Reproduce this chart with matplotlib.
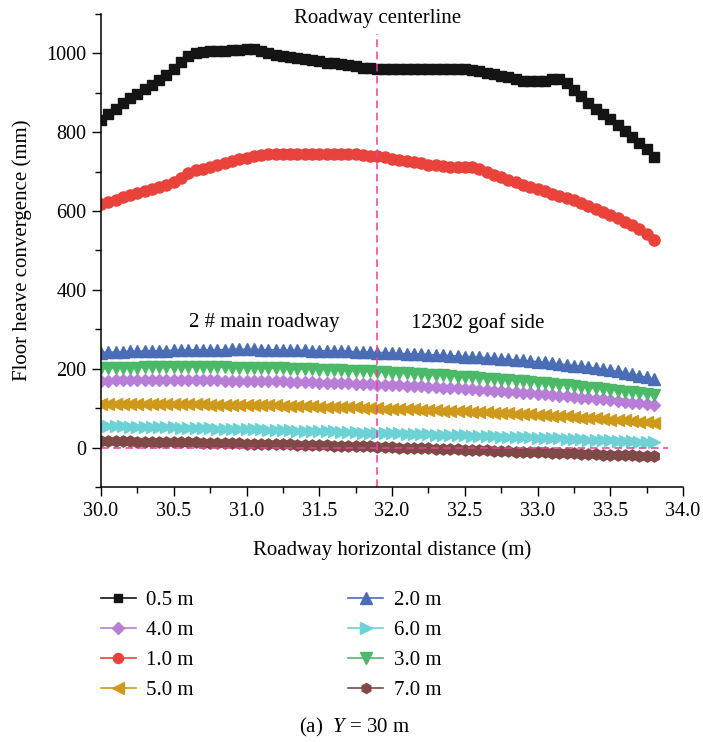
import numpy as np
import matplotlib
matplotlib.use("Agg")
import matplotlib.pyplot as plt
from matplotlib.ticker import MultipleLocator

plt.rcParams['font.family'] = ['Liberation Serif', 'DejaVu Serif']
plt.rcParams['mathtext.fontset'] = 'custom'
plt.rcParams['mathtext.rm'] = 'Liberation Serif'
plt.rcParams['mathtext.it'] = 'Liberation Serif:italic'

# horizontal positions of the monitoring points (m), 0.05 m spacing
distance = np.linspace(30.0, 33.8, 77)

# floor heave convergence (mm) at each depth below the floor
heave_05 = [832, 846, 860, 874, 886, 898, 910, 921, 933, 946, 960,
            978, 994, 1000, 1003, 1005, 1006, 1007, 1008, 1009, 1010, 1010,
            1005, 1001, 997, 994, 991, 988, 985, 983, 980, 977, 975,
            972, 970, 967, 964, 962, 960, 960, 960, 960, 960, 960,
            960, 960, 960, 960, 960, 960, 960, 958, 955, 951, 947,
            943, 939, 934, 931, 929, 929, 931, 935, 934, 925, 908,
            891, 874, 858, 846, 834, 819, 804, 789, 772, 757, 738]
heave_10 = [617, 623, 629, 635, 641, 646, 652, 657, 662, 667, 673,
            684, 697, 703, 708, 713, 718, 722, 726, 731, 735, 739,
            742, 744, 745, 746, 746, 746, 746, 746, 746, 746, 746,
            746, 746, 745, 743, 741, 739, 736, 733, 730, 727, 724,
            721, 718, 716, 714, 713, 713, 713, 711, 706, 699, 692,
            686, 679, 673, 667, 662, 656, 650, 644, 638, 633, 627,
            621, 613, 606, 598, 590, 582, 573, 565, 555, 542, 527]
heave_20 = [241, 242, 242, 243, 244, 244, 245, 245, 246, 246, 247,
            247, 247, 248, 248, 248, 248, 248, 249, 249, 249, 249,
            248, 248, 248, 248, 247, 247, 247, 246, 246, 245, 245,
            244, 244, 243, 243, 242, 241, 241, 240, 239, 238, 238,
            237, 236, 235, 234, 233, 232, 231, 230, 229, 228, 226,
            225, 224, 222, 221, 219, 218, 216, 214, 212, 210, 208,
            206, 204, 201, 199, 196, 193, 190, 186, 182, 178, 173]
heave_30 = [201, 202, 202, 203, 203, 203, 204, 204, 204, 204, 204,
            204, 204, 204, 204, 204, 204, 204, 203, 203, 203, 202,
            202, 202, 201, 201, 200, 200, 199, 199, 198, 197, 197,
            196, 195, 195, 194, 193, 192, 191, 190, 189, 188, 187,
            186, 185, 184, 183, 182, 180, 179, 178, 176, 175, 174,
            172, 171, 169, 168, 166, 165, 163, 161, 160, 158, 156,
            154, 152, 150, 148, 146, 144, 142, 140, 138, 136, 134]
heave_40 = [170, 170, 171, 171, 171, 171, 171, 171, 171, 171, 171,
            171, 171, 171, 171, 171, 171, 170, 170, 170, 170, 169,
            169, 169, 168, 168, 167, 167, 166, 166, 165, 165, 164,
            164, 163, 162, 162, 161, 160, 159, 159, 158, 157, 156,
            155, 154, 153, 152, 151, 150, 149, 148, 147, 146, 144,
            143, 142, 140, 139, 138, 136, 135, 133, 132, 130, 129,
            127, 125, 124, 122, 120, 118, 116, 114, 112, 110, 107]
heave_50 = [111, 111, 111, 111, 111, 111, 111, 111, 110, 110, 110,
            110, 110, 110, 110, 109, 109, 109, 109, 108, 108, 108,
            107, 107, 107, 106, 106, 105, 105, 105, 104, 104, 103,
            103, 102, 102, 101, 101, 100, 99, 99, 98, 98, 97,
            96, 96, 95, 94, 93, 93, 92, 91, 90, 89, 88,
            88, 87, 86, 85, 84, 83, 82, 81, 80, 79, 78,
            76, 75, 74, 73, 71, 70, 69, 67, 66, 64, 62]
heave_60 = [55, 55, 54, 54, 53, 53, 52, 52, 52, 51, 51,
            50, 50, 50, 49, 49, 48, 48, 48, 47, 47, 46,
            46, 45, 45, 44, 44, 43, 43, 42, 42, 41, 41,
            40, 39, 39, 38, 38, 37, 37, 36, 36, 35, 35,
            34, 34, 33, 33, 32, 32, 31, 30, 30, 29, 29,
            28, 27, 27, 26, 26, 25, 24, 24, 23, 22, 22,
            21, 20, 20, 19, 18, 17, 17, 16, 15, 14, 13]
heave_70 = [17, 17, 16, 16, 16, 15, 15, 15, 14, 14, 14,
            13, 13, 13, 12, 12, 12, 11, 11, 11, 10, 10,
            9, 9, 9, 8, 8, 7, 7, 6, 6, 6, 5,
            5, 4, 4, 3, 3, 2, 2, 1, 0, 0, -1,
            -1, -2, -3, -3, -4, -4, -5, -6, -6, -7, -8,
            -8, -9, -10, -10, -11, -12, -12, -13, -14, -14, -15,
            -16, -16, -17, -18, -18, -19, -20, -20, -21, -22, -22]

centerline_x = 31.9

# legend order: two columns, filled top to bottom
series = [
    ('0.5 m', heave_05, '#141414', 's', 7),
    ('4.0 m', heave_40, '#b87dd6', 'D', 6.5),
    ('1.0 m', heave_10, '#e8423b', 'o', 8),
    ('5.0 m', heave_50, '#cf9a1c', '<', 9),
    ('2.0 m', heave_20, '#4a6db5', '^', 9),
    ('6.0 m', heave_60, '#6dd2d5', '>', 9),
    ('3.0 m', heave_30, '#4bba68', 'v', 9),
    ('7.0 m', heave_70, '#7e4946', 'h', 8),
]

fig = plt.figure(figsize=(7.03, 7.42), dpi=100)
ax = fig.add_axes([0.1437, 0.3437, 0.8279, 0.6374])

for label, values, color, marker, size in series:
    ax.plot(distance, values, color=color, marker=marker, markersize=size,
            linewidth=1.2, label=label)

# reference lines
ax.plot([30.0, 33.9], [0, 0], color='#e8409a', linestyle='--', linewidth=1.1, dashes=(5, 3))
ax.plot([centerline_x, centerline_x], [-100, 1050], color='#e8409a', linestyle='--',
        linewidth=1.1, dashes=(5, 3))

ax.text(centerline_x, 1088, 'Roadway centerline', ha='center', va='center', fontsize=15)
ax.text(31.12, 317, '2 # main roadway', ha='center', va='center', fontsize=15)
ax.text(32.59, 317, '12302 goaf side', ha='center', va='center', fontsize=15)

ax.set_xlim(30.0, 34.0)
ax.set_ylim(-100, 1100)
ax.xaxis.set_major_locator(MultipleLocator(0.5))
ax.xaxis.set_minor_locator(MultipleLocator(0.25))
ax.yaxis.set_major_locator(MultipleLocator(200))
ax.yaxis.set_minor_locator(MultipleLocator(100))
ax.xaxis.set_major_formatter(plt.FuncFormatter(lambda v, p: f'{v:.1f}'))
ax.tick_params(axis='both', which='major', direction='out', length=6.5, width=1,
               labelsize=14.5, pad=4)
ax.tick_params(axis='both', which='minor', direction='out', length=4, width=1)
for side in ['top', 'right']:
    ax.spines[side].set_visible(False)
for side in ['left', 'bottom']:
    ax.spines[side].set_linewidth(1.1)

ax.set_xlabel('Roadway horizontal distance (m)', fontsize=15, labelpad=14)
ax.set_ylabel('Floor heave convergence (mm)', fontsize=15, labelpad=10)

handles, labels = ax.get_legend_handles_labels()
fig.legend(handles, labels, ncol=2, loc='upper left', bbox_to_anchor=(0.1163, 0.2291),
           frameon=False, fontsize=15, handlelength=1.7, columnspacing=7.4,
           labelspacing=0.5, handletextpad=0.5, markerscale=0.9)

fig.text(0.505, 0.0202, r'(a)  $Y$ = 30 m', ha='center', va='center', fontsize=15)

fig.savefig('out.png', dpi=100)
